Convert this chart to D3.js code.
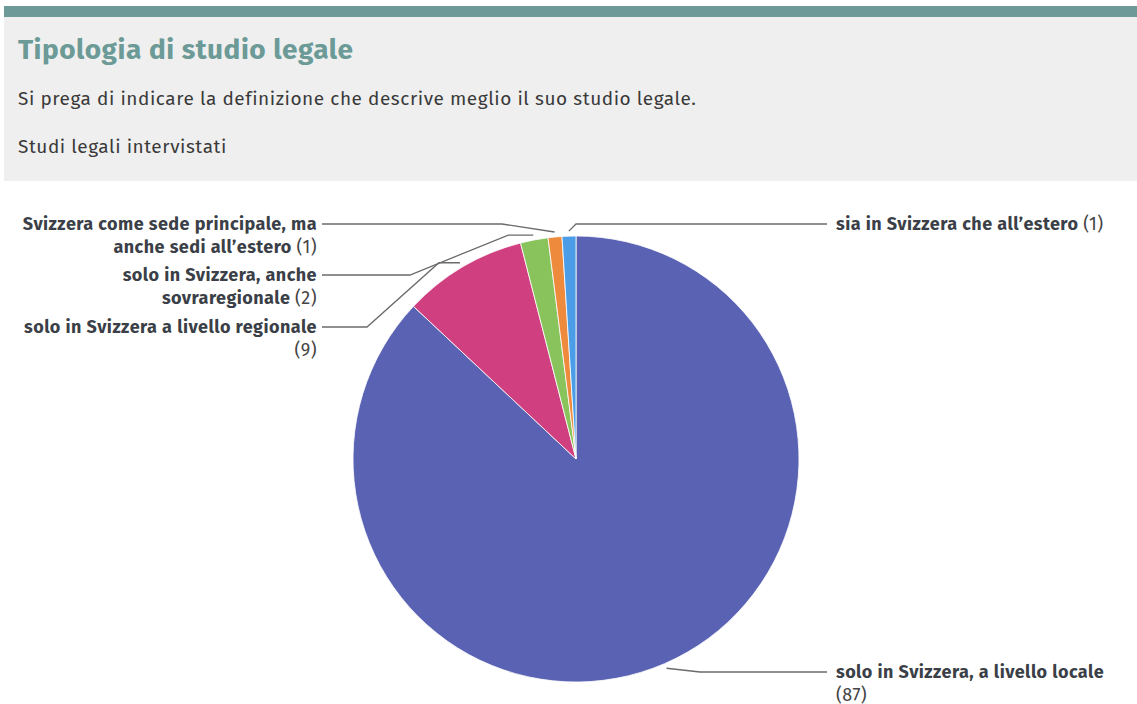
<!DOCTYPE html>
<html>
<head>
<meta charset="utf-8">
<script src="https://cdn.jsdelivr.net/npm/d3@7/dist/d3.min.js"></script>
<style>
  html, body { margin: 0; padding: 0; background: #fff; }
  svg { display: block; font-family: "Fira Sans", Lato, "Noto Sans", sans-serif; }
</style>
</head>
<body>
<svg id="chart" width="1137" height="704"></svg>
<script>
// ---- data ----
const title = "Tipologia di studio legale";
const subtitle = "Si prega di indicare la definizione che descrive meglio il suo studio legale.";
const note = "Studi legali intervistati";
const categories = [
  "solo in Svizzera, a livello locale",
  "solo in Svizzera a livello regionale",
  "solo in Svizzera, anche sovraregionale",
  "Svizzera come sede principale, ma anche sedi all’estero",
  "sia in Svizzera che all’estero"
];
const values = [87, 9, 2, 1, 1];
const colors = ["#5a63b3", "#d03f7f", "#88c35b", "#ee8a3c", "#4a9de6"];

// ---- layout (positions / styles only) ----
const svg = d3.select("#chart");
const W = 1137, H = 704;
const cx = 576, cy = 459, R = 223;

// header
svg.append("rect").attr("x", 4).attr("y", 6).attr("width", W - 4).attr("height", 12).attr("fill", "#6d9a98");
svg.append("rect").attr("x", 4).attr("y", 17).attr("width", W - 4).attr("height", 164).attr("fill", "#efefef");
svg.append("text").attr("x", 18).attr("y", 59).attr("fill", "#6b9a97")
  .attr("font-size", 28).attr("letter-spacing", 0.5).attr("font-weight", 700).text(title);
svg.append("text").attr("x", 18).attr("y", 105).attr("fill", "#3a3a3a")
  .attr("font-size", 19).attr("letter-spacing", 0.55).text(subtitle);
svg.append("text").attr("x", 18).attr("y", 153).attr("fill", "#3a3a3a")
  .attr("font-size", 19).attr("letter-spacing", 0.55).text(note);

// pie
const data = categories.map((c, i) => ({ name: c, value: values[i], color: colors[i] }));
const pie = d3.pie().value(d => d.value).sort(null).startAngle(0).endAngle(2 * Math.PI);
const arcs = pie(data);
const arc = d3.arc().innerRadius(0).outerRadius(R);
const g = svg.append("g").attr("transform", `translate(${cx},${cy})`);
g.selectAll("path").data(arcs).join("path")
  .attr("d", arc).attr("fill", d => d.data.color)
  .attr("stroke", "#ffffff").attr("stroke-width", 1).attr("stroke-opacity", 0.8);

// label layout: line breaks, side, y of first line, crook x, tip length
const labelLayout = [
  { lines: ["solo in Svizzera, a livello locale", "(87)"], side: "right", y: 672, crook: 700, tip: 0 },
  { lines: ["solo in Svizzera a livello regionale", "(9)"], side: "left", y: 327, crook: 367, tip: 21 },
  { lines: ["solo in Svizzera, anche", "sovraregionale (2)"], side: "left", y: 275, crook: 410, tip: 25 },
  { lines: ["Svizzera come sede principale, ma", "anche sedi all’estero (1)"], side: "left", y: 224, crook: 502, tip: 0 },
  { lines: ["sia in Svizzera che all’estero (1)"], side: "right", y: 224, crook: 576, tip: 0 }
];

const outer = d3.arc().innerRadius(R + 5).outerRadius(R + 5);
const labels = svg.append("g");
arcs.forEach((a, i) => {
  const L = labelLayout[i];
  const [tx, ty] = outer.centroid(a);
  const px = cx + tx, py = cy + ty;
  const lineEndX = L.side === "left" ? 322 : 827;
  const textX = L.side === "left" ? 317 : 836;
  const pts = [[px, py]];
  if (L.tip) pts.push([px - L.tip, py]);
  pts.push([L.crook, L.y]);
  pts.push([lineEndX, L.y]);
  labels.append("path").attr("d", d3.line()(pts))
    .attr("fill", "none").attr("stroke", "#6b6b6b").attr("stroke-width", 1.3);

  const t = labels.append("text")
    .attr("text-anchor", L.side === "left" ? "end" : "start")
    .attr("font-size", 18).attr("letter-spacing", 0.45).attr("fill", "#3b3f47");
  const countStr = "(" + a.data.value + ")";
  L.lines.forEach((ln, k) => {
    const tl = t.append("tspan").attr("x", textX).attr("y", L.y + 6 + k * 22.5);
    if (ln.endsWith(countStr)) {
      const main = ln.slice(0, ln.length - countStr.length);
      if (main.trim().length) tl.append("tspan").attr("font-weight", 700).text(main);
      tl.append("tspan").attr("font-weight", 400).attr("fill", "#444").text(countStr);
    } else {
      tl.attr("font-weight", 700).text(ln);
    }
  });
});
</script>
</body>
</html>
